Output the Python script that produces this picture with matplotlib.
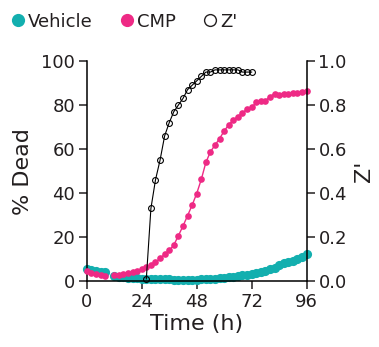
import numpy as np
import matplotlib.pyplot as plt
from matplotlib.lines import Line2D

# time points (h), imaging gap at 10 h
hours = np.arange(0, 97, 2)

vehicle = [5.3, 4.9, 4.6, 4.3, 4.0, np.nan, 2.4, 2.0, 1.7, 1.5, 1.3, 1.2, 1.1,
           1.0, 0.9, 0.9, 0.8, 0.8, 0.8, 0.7, 0.7, 0.7, 0.7, 0.7, 0.7, 0.8,
           0.8, 0.9, 1.0, 1.2, 1.4, 1.7, 2.0, 2.3, 2.6, 2.9, 3.2, 3.7, 4.3,
           4.8, 5.3, 6.0, 7.3, 8.2, 8.6, 9.3, 10.0, 11.0, 12.5]

cmp_dead = [4.5, 3.8, 3.2, 2.6, 2.2, np.nan, 2.6, 2.8, 3.0, 3.5, 3.9, 4.5, 5.3,
            6.2, 7.3, 8.5, 10.3, 12.2, 13.9, 16.4, 20.6, 25.0, 29.7, 34.5,
            39.8, 46.2, 53.9, 58.8, 61.8, 64.8, 68.2, 71.1, 73.2, 74.8, 76.4,
            78.2, 78.9, 81.2, 81.7, 82.0, 83.8, 85.2, 84.8, 85.2, 85.2, 85.5,
            85.6, 85.8, 86.4]

z_hours = np.arange(26, 73, 2)
z_prime = [0.01, 0.33, 0.46, 0.55, 0.66, 0.72, 0.77, 0.80, 0.83, 0.87, 0.89,
           0.91, 0.93, 0.95, 0.95, 0.96, 0.96, 0.96, 0.96, 0.96, 0.96, 0.95,
           0.95, 0.95]

teal = '#13AFAF'
pink = '#EE2A85'
txt = '#231F20'

plt.rcParams['font.family'] = 'DejaVu Sans'
plt.rcParams['text.color'] = txt
plt.rcParams['axes.labelcolor'] = txt
plt.rcParams['xtick.color'] = txt
plt.rcParams['ytick.color'] = txt

fig = plt.figure(figsize=(3.79, 3.47), dpi=100)
ax = fig.add_axes([0.229, 0.190, 0.580, 0.634])
ax2 = ax.twinx()

ax.plot(hours, vehicle, color=teal, marker='o', markersize=6.6, lw=1.5,
        markeredgewidth=0, clip_on=False, zorder=2)
ax.plot(hours, cmp_dead, color=pink, marker='o', markersize=4.8, lw=1,
        markeredgewidth=0, clip_on=False, zorder=3)
ax2.plot(z_hours, z_prime, color='black', marker='o', markersize=4.2, lw=0.8,
         markerfacecolor='none', markeredgewidth=0.8, clip_on=False)

ax.set_xlim(0, 96)
ax.set_ylim(0, 100)
ax2.set_ylim(0, 1)
ax.set_xticks([0, 24, 48, 72, 96])
ax.set_yticks(np.arange(0, 101, 20))
ax2.set_yticks(np.arange(0, 1.01, 0.2))
ax2.set_yticklabels([f'{v:.1f}' for v in np.arange(0, 1.01, 0.2)])

for a in (ax, ax2):
    a.spines['top'].set_visible(False)
    for s in a.spines.values():
        s.set_linewidth(1.1)
    a.tick_params(direction='out', length=5.5, width=1.1, labelsize=13, pad=3)
ax.spines['right'].set_visible(False)
ax2.spines['left'].set_visible(False)
ax2.spines['bottom'].set_visible(False)

ax.set_xlabel('Time (h)', fontsize=16, labelpad=2)
ax.set_ylabel('% Dead', fontsize=16, labelpad=6)
ax2.set_ylabel("Z'", fontsize=16, rotation=90, labelpad=5)

handles = [
    Line2D([], [], ls='none', marker='o', markersize=9.5, color=teal, markeredgewidth=0),
    Line2D([], [], ls='none', marker='o', markersize=9.5, color=pink, markeredgewidth=0),
    Line2D([], [], ls='none', marker='o', markersize=8.5, markerfacecolor='none',
           markeredgecolor=txt, markeredgewidth=1.0),
]
fig.legend(handles, ['Vehicle', 'CMP', "Z'"], loc='upper left',
           bbox_to_anchor=(0.0, 1.0), ncol=3, frameon=False, fontsize=13,
           handlelength=0.6, handletextpad=0.25, columnspacing=1.6,
           borderaxespad=0.3)

fig.savefig('out.png', dpi=100)
